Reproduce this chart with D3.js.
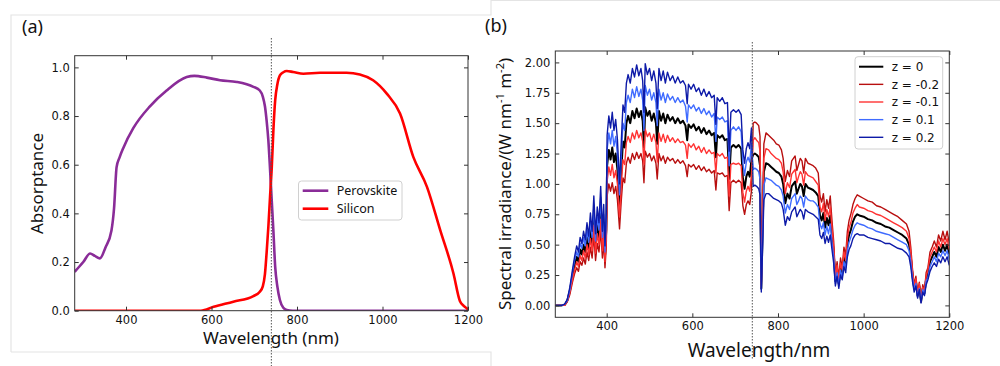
<!DOCTYPE html>
<html>
<head>
<meta charset="utf-8">
<script src="https://cdn.jsdelivr.net/npm/d3@7"></script>
<style>
body { margin: 0; background: #fff; }
svg { display: block; }
.tick text { font-family: "DejaVu Sans", sans-serif; fill: #111; }
</style>
</head>
<body>
<svg id="chart" width="1000" height="366"></svg>
<script>
// panel (a) absorptance
var absWl = [280, 300, 316, 327, 339, 352, 366, 372, 378, 385, 394, 417, 456, 495, 542, 560, 589, 620, 659, 698, 713, 720, 725, 729, 733, 737, 741, 745, 749, 754, 760, 768, 776, 790, 1200];
var perovskite = [0.16, 0.20, 0.235, 0.225, 0.215, 0.26, 0.33, 0.42, 0.59, 0.63, 0.67, 0.75, 0.84, 0.905, 0.96, 0.965, 0.958, 0.947, 0.94, 0.92, 0.905, 0.88, 0.84, 0.78, 0.70, 0.58, 0.45, 0.32, 0.18, 0.10, 0.044, 0.012, 0.003, 0, 0];
var siWl = [280, 575, 605, 651, 698, 713, 720, 725, 729, 733, 737, 741, 745, 749, 754, 760, 768, 776, 791, 815, 854, 916, 947, 978, 1010, 1041, 1072, 1104, 1135, 1166, 1181, 1190, 1197, 1200];
var silicon = [0, 0, 0.016, 0.037, 0.06, 0.078, 0.10, 0.15, 0.24, 0.345, 0.47, 0.59, 0.75, 0.865, 0.93, 0.967, 0.98, 0.985, 0.981, 0.974, 0.978, 0.978, 0.971, 0.947, 0.892, 0.81, 0.632, 0.509, 0.331, 0.153, 0.04, 0.02, 0.01, 0.005];
var absTicksX = [400, 600, 800, 1000, 1200];
var absTicksY = [0, 0.2, 0.4, 0.6, 0.8, 1.0];

// panel (b) spectral irradiance
var specWl = [280, 295, 302, 308, 314, 320, 325, 330, 334, 338, 342, 346, 350, 354, 358, 362, 366, 370, 374, 378, 382, 386, 390, 393, 396, 399,
  401, 405, 409, 413, 417, 421, 425, 430, 434, 438, 442, 446, 450, 455, 460, 465, 470, 475, 480, 484, 487, 490, 495, 500, 505, 510, 515, 518,
  522, 527, 532, 537, 542, 548, 554, 560, 566, 572, 578, 584, 588, 591, 597, 603, 609, 615, 621, 627, 633, 639, 645, 651, 655, 658, 664, 670,
  676, 682, 686, 690, 696, 702, 708, 714, 718, 722, 726, 730, 734, 738,
  742, 746, 750, 755, 758, 761, 764, 767, 772, 778, 784, 790, 796, 802, 808, 812, 817, 822, 827, 832, 836, 840, 844, 848, 852, 856, 860, 864,
  870, 876, 882, 888, 894, 898, 902, 906, 910, 914, 918, 922, 926, 930, 934, 938, 942, 946, 950, 954, 958, 962, 966, 970, 975, 980, 985, 990,
  1000, 1010, 1020, 1030, 1040, 1050, 1060, 1070, 1080, 1090, 1100, 1106, 1110, 1114, 1118, 1122, 1126, 1130, 1134, 1138, 1142, 1146, 1150,
  1155, 1160, 1165, 1170, 1175, 1180, 1185, 1190, 1195, 1200];
var z0 = [0, 0, 0.005, 0.04, 0.12, 0.24, 0.33, 0.40, 0.36, 0.46, 0.42, 0.50, 0.44, 0.56, 0.47, 0.62, 0.50, 0.74, 0.48, 0.66, 0.56, 0.80, 0.50, 0.68, 0.40, 0.62,
  1.15, 1.28, 1.20, 1.30, 1.18, 1.25, 1.12, 0.82, 1.10, 1.35, 1.30, 1.50, 1.56, 1.50, 1.60, 1.54, 1.62, 1.55, 1.60, 1.52, 1.30, 1.63, 1.56, 1.60, 1.52, 1.58, 1.50, 1.33,
  1.60, 1.52, 1.58, 1.50, 1.57, 1.52, 1.55, 1.50, 1.54, 1.50, 1.52, 1.48, 1.36, 1.49, 1.46, 1.49, 1.44, 1.47, 1.42, 1.46, 1.41, 1.44, 1.40, 1.42, 1.22, 1.40, 1.38, 1.40,
  1.36, 1.37, 1.04, 1.30, 1.32, 1.30, 1.32, 1.29, 1.05, 0.96, 1.06, 1.10, 1.06, 1.20,
  1.24, 1.25, 1.24, 1.22, 1.15, 0.14, 0.60, 1.10, 1.17, 1.16, 1.14, 1.12, 1.10, 1.09, 1.06, 1.00, 0.84, 0.92, 0.88, 0.98, 1.00, 1.02, 0.92, 0.96, 1.00, 0.98, 0.90, 1.00,
  0.97, 0.96, 0.95, 0.93, 0.90, 0.74, 0.70, 0.76, 0.64, 0.72, 0.66, 0.74, 0.58, 0.44, 0.20, 0.30, 0.18, 0.32, 0.26, 0.40, 0.34, 0.50, 0.58, 0.62, 0.69, 0.73, 0.75, 0.74,
  0.73, 0.71, 0.70, 0.68, 0.67, 0.65, 0.64, 0.62, 0.60, 0.58, 0.55, 0.50, 0.40, 0.25, 0.14, 0.20, 0.08, 0.16, 0.03, 0.14, 0.10, 0.22, 0.26,
  0.36, 0.40, 0.44, 0.40, 0.48, 0.44, 0.50, 0.45, 0.50, 0.42];
var zm02 = [0, 0, 0, 0.03, 0.09, 0.19, 0.26, 0.31, 0.28, 0.36, 0.33, 0.39, 0.34, 0.44, 0.37, 0.48, 0.39, 0.58, 0.37, 0.51, 0.44, 0.62, 0.39, 0.53, 0.31, 0.48,
  0.90, 1.00, 0.94, 1.01, 0.92, 0.98, 0.87, 0.63, 0.86, 1.05, 1.01, 1.17, 1.22, 1.17, 1.25, 1.20, 1.26, 1.21, 1.25, 1.19, 1.01, 1.27, 1.22, 1.25, 1.19, 1.23, 1.17, 1.04,
  1.25, 1.19, 1.23, 1.17, 1.22, 1.19, 1.21, 1.17, 1.20, 1.17, 1.19, 1.15, 1.06, 1.16, 1.14, 1.16, 1.12, 1.15, 1.11, 1.14, 1.10, 1.12, 1.09, 1.11, 0.95, 1.09, 1.08, 1.09,
  1.06, 1.07, 0.78, 1.01, 1.03, 1.01, 1.03, 1.01, 0.82, 0.75, 0.83, 0.86, 0.83, 0.94,
  1.50, 1.51, 1.50, 1.48, 1.39, 0.17, 0.73, 1.33, 1.42, 1.40, 1.38, 1.36, 1.33, 1.32, 1.28, 1.21, 1.02, 1.11, 1.06, 1.19, 1.21, 1.23, 1.11, 1.16, 1.21, 1.19, 1.09, 1.21,
  1.17, 1.16, 1.15, 1.13, 1.09, 0.90, 0.85, 0.92, 0.77, 0.87, 0.80, 0.90, 0.70, 0.53, 0.24, 0.36, 0.22, 0.39, 0.31, 0.48, 0.41, 0.61, 0.70, 0.75, 0.83, 0.88, 0.91, 0.90,
  0.88, 0.86, 0.85, 0.82, 0.81, 0.79, 0.77, 0.75, 0.73, 0.70, 0.67, 0.61, 0.48, 0.30, 0.17, 0.24, 0.10, 0.19, 0.04, 0.17, 0.12, 0.27, 0.31,
  0.44, 0.48, 0.53, 0.48, 0.58, 0.53, 0.61, 0.54, 0.61, 0.51];
var zm01 = [0, 0, 0, 0.04, 0.11, 0.21, 0.29, 0.36, 0.32, 0.41, 0.37, 0.45, 0.39, 0.50, 0.42, 0.55, 0.45, 0.66, 0.43, 0.59, 0.50, 0.71, 0.45, 0.61, 0.36, 0.55,
  1.02, 1.14, 1.07, 1.16, 1.05, 1.11, 1.00, 0.73, 0.98, 1.20, 1.16, 1.34, 1.39, 1.34, 1.42, 1.37, 1.44, 1.38, 1.42, 1.35, 1.16, 1.45, 1.39, 1.42, 1.35, 1.41, 1.34, 1.18,
  1.42, 1.35, 1.41, 1.34, 1.40, 1.35, 1.38, 1.34, 1.37, 1.34, 1.35, 1.32, 1.21, 1.33, 1.30, 1.33, 1.28, 1.31, 1.26, 1.30, 1.25, 1.28, 1.25, 1.26, 1.09, 1.25, 1.23, 1.25,
  1.21, 1.22, 0.90, 1.16, 1.17, 1.16, 1.17, 1.15, 0.93, 0.85, 0.94, 0.98, 0.94, 1.07,
  1.36, 1.38, 1.36, 1.34, 1.27, 0.15, 0.66, 1.21, 1.29, 1.28, 1.25, 1.23, 1.21, 1.20, 1.17, 1.10, 0.92, 1.01, 0.97, 1.08, 1.10, 1.12, 1.01, 1.06, 1.10, 1.08, 0.99, 1.10,
  1.07, 1.06, 1.05, 1.02, 0.99, 0.81, 0.77, 0.84, 0.70, 0.79, 0.73, 0.81, 0.64, 0.48, 0.22, 0.33, 0.20, 0.35, 0.29, 0.44, 0.37, 0.55, 0.64, 0.68, 0.76, 0.80, 0.83, 0.81,
  0.80, 0.78, 0.77, 0.75, 0.74, 0.72, 0.70, 0.68, 0.66, 0.64, 0.61, 0.55, 0.44, 0.28, 0.15, 0.22, 0.09, 0.18, 0.03, 0.15, 0.11, 0.24, 0.29,
  0.40, 0.44, 0.48, 0.44, 0.53, 0.48, 0.55, 0.50, 0.55, 0.46];
var zp01 = [0, 0, 0.01, 0.04, 0.13, 0.27, 0.37, 0.44, 0.40, 0.51, 0.47, 0.56, 0.49, 0.62, 0.52, 0.69, 0.56, 0.82, 0.53, 0.73, 0.62, 0.89, 0.56, 0.75, 0.44, 0.69,
  1.28, 1.42, 1.33, 1.44, 1.31, 1.39, 1.24, 0.91, 1.22, 1.50, 1.44, 1.67, 1.73, 1.67, 1.78, 1.71, 1.80, 1.72, 1.78, 1.69, 1.44, 1.81, 1.73, 1.78, 1.69, 1.75, 1.67, 1.48,
  1.78, 1.69, 1.75, 1.67, 1.74, 1.69, 1.72, 1.67, 1.71, 1.67, 1.69, 1.64, 1.51, 1.65, 1.62, 1.65, 1.60, 1.63, 1.58, 1.62, 1.57, 1.60, 1.55, 1.58, 1.35, 1.55, 1.53, 1.55,
  1.51, 1.52, 1.15, 1.44, 1.47, 1.44, 1.47, 1.43, 1.17, 1.07, 1.18, 1.22, 1.18, 1.33,
  1.12, 1.13, 1.12, 1.10, 1.04, 0.13, 0.54, 0.99, 1.05, 1.04, 1.03, 1.01, 0.99, 0.98, 0.95, 0.90, 0.76, 0.83, 0.79, 0.88, 0.90, 0.92, 0.83, 0.86, 0.90, 0.88, 0.81, 0.90,
  0.87, 0.86, 0.86, 0.84, 0.81, 0.67, 0.63, 0.68, 0.58, 0.65, 0.59, 0.67, 0.52, 0.40, 0.18, 0.27, 0.16, 0.29, 0.23, 0.36, 0.31, 0.45, 0.52, 0.56, 0.62, 0.66, 0.68, 0.67,
  0.66, 0.64, 0.63, 0.61, 0.60, 0.59, 0.58, 0.56, 0.54, 0.52, 0.50, 0.45, 0.36, 0.23, 0.13, 0.18, 0.07, 0.14, 0.03, 0.13, 0.09, 0.20, 0.23,
  0.32, 0.36, 0.40, 0.36, 0.43, 0.40, 0.45, 0.41, 0.45, 0.38];
var zp02 = [0, 0, 0.01, 0.05, 0.15, 0.29, 0.40, 0.49, 0.44, 0.56, 0.51, 0.61, 0.54, 0.68, 0.57, 0.76, 0.61, 0.90, 0.59, 0.81, 0.68, 0.98, 0.61, 0.83, 0.49, 0.76,
  1.40, 1.56, 1.46, 1.59, 1.44, 1.53, 1.37, 1.00, 1.34, 1.65, 1.59, 1.83, 1.90, 1.83, 1.95, 1.88, 1.98, 1.89, 1.95, 1.85, 1.59, 1.99, 1.90, 1.95, 1.85, 1.93, 1.83, 1.62,
  1.95, 1.85, 1.93, 1.83, 1.92, 1.85, 1.89, 1.83, 1.88, 1.83, 1.85, 1.81, 1.66, 1.82, 1.78, 1.82, 1.76, 1.79, 1.73, 1.78, 1.72, 1.76, 1.71, 1.73, 1.49, 1.71, 1.68, 1.71,
  1.66, 1.67, 1.27, 1.59, 1.61, 1.59, 1.61, 1.57, 1.28, 1.17, 1.29, 1.34, 1.29, 1.46,
  0.98, 0.99, 0.98, 0.96, 0.91, 0.11, 0.47, 0.87, 0.92, 0.92, 0.90, 0.88, 0.87, 0.86, 0.84, 0.79, 0.66, 0.73, 0.70, 0.77, 0.79, 0.81, 0.73, 0.76, 0.79, 0.77, 0.71, 0.79,
  0.77, 0.76, 0.75, 0.73, 0.71, 0.58, 0.55, 0.60, 0.51, 0.57, 0.52, 0.58, 0.46, 0.35, 0.16, 0.24, 0.14, 0.25, 0.21, 0.32, 0.27, 0.40, 0.46, 0.49, 0.55, 0.58, 0.59, 0.58,
  0.58, 0.56, 0.55, 0.54, 0.53, 0.51, 0.51, 0.49, 0.47, 0.46, 0.43, 0.40, 0.32, 0.20, 0.11, 0.16, 0.06, 0.13, 0.02, 0.11, 0.08, 0.17, 0.21,
  0.28, 0.32, 0.35, 0.32, 0.38, 0.35, 0.40, 0.36, 0.40, 0.33];
var specNames = ["z = 0", "z = -0.2", "z = -0.1", "z = 0.1", "z = 0.2"];
var specColors = ["#000000", "#b80f0f", "#ff3333", "#3f6bff", "#0d1aa8"];
var specWidths = [2, 1.4, 1.4, 1.4, 1.4];
var specTicksX = [400, 600, 800, 1000, 1200];
var specTicksY = [0, 0.25, 0.5, 0.75, 1.0, 1.25, 1.5, 1.75, 2.0];
var splitWl = 740;

var svg = d3.select("#chart");
svg.append("rect").attr("width", 1000).attr("height", 366).attr("fill", "#fff");

// screenshot frame lines
svg.append("path").attr("d", "M11,352V15H491V0M11,352H491V366M491,0.5H1000").attr("fill", "none").attr("stroke", "#e4e4e4").attr("stroke-width", 1.2);

function frameAxes(g, x, y, ticksX, ticksY, fmtY, fs) {
    var w = x.range()[1] - x.range()[0];
    var h = y.range()[0] - y.range()[1];
    g.append("g").attr("transform", "translate(0," + y.range()[0] + ")")
        .call(d3.axisBottom(x).tickValues(ticksX).tickSizeInner(-4).tickSizeOuter(0).tickPadding(5).tickFormat(d3.format("d")))
        .call(function(a) { a.select(".domain").remove(); a.selectAll("text").attr("font-size", fs); });
    g.append("g").attr("transform", "translate(0," + y.range()[1] + ")")
        .call(d3.axisTop(x).tickValues(ticksX).tickSizeInner(-4).tickSizeOuter(0).tickFormat(""))
        .call(function(a) { a.select(".domain").remove(); });
    g.append("g").attr("transform", "translate(" + x.range()[0] + ",0)")
        .call(d3.axisLeft(y).tickValues(ticksY).tickSizeInner(-4).tickSizeOuter(0).tickPadding(5).tickFormat(d3.format(fmtY)))
        .call(function(a) { a.select(".domain").remove(); a.selectAll("text").attr("font-size", fs); });
    g.append("g").attr("transform", "translate(" + x.range()[1] + ",0)")
        .call(d3.axisRight(y).tickValues(ticksY).tickSizeInner(-4).tickSizeOuter(0).tickFormat(""))
        .call(function(a) { a.select(".domain").remove(); });
    g.selectAll(".tick line").attr("stroke", "#333");
    g.append("rect").attr("x", x.range()[0]).attr("y", y.range()[1]).attr("width", w).attr("height", h)
        .attr("fill", "none").attr("stroke", "#333").attr("stroke-width", 1);
}

// ---------- panel (a)
var xa = d3.scaleLinear().domain([280, 1200]).range([74.7, 468]);
var ya = d3.scaleLinear().domain([0, 1.048]).range([310.7, 55.7]);
var ga = svg.append("g");
var lineA = d3.line().x(function(d) { return xa(d[0]); }).y(function(d) { return ya(d[1]); }).curve(d3.curveMonotoneX);
var clipA = ga.append("clipPath").attr("id", "clipA").append("rect")
    .attr("x", 74.7).attr("y", 55.7).attr("width", 468 - 74.7).attr("height", 310.7 - 55.7);
ga.append("path").attr("d", lineA(d3.zip(absWl, perovskite))).attr("fill", "none").attr("stroke", "#8a2c98").attr("stroke-width", 2.6).attr("clip-path", "url(#clipA)");
ga.append("path").attr("d", lineA(d3.zip(siWl, silicon))).attr("fill", "none").attr("stroke", "#ff0000").attr("stroke-width", 2.6).attr("clip-path", "url(#clipA)");
frameAxes(ga, xa, ya, absTicksX, absTicksY, ".1f", 11.5);
ga.append("line").attr("x1", xa(splitWl)).attr("x2", xa(splitWl)).attr("y1", 38).attr("y2", 366)
    .attr("stroke", "#555").attr("stroke-width", 1).attr("stroke-dasharray", "1.5,1.5");

var legA = ga.append("g");
legA.append("rect").attr("x", 298.5).attr("y", 181).attr("width", 103.5).attr("height", 39).attr("rx", 3)
    .attr("fill", "#fff").attr("stroke", "#d0d0d0");
[["Perovskite", "#8a2c98", 190.7], ["Silicon", "#ff0000", 208.7]].forEach(function(e) {
    legA.append("line").attr("x1", 302.7).attr("x2", 328.3).attr("y1", e[2]).attr("y2", e[2]).attr("stroke", e[1]).attr("stroke-width", 2.6);
    legA.append("text").attr("x", 336.7).attr("y", e[2]).attr("dy", "0.35em").attr("font-family", "Noto Sans").attr("font-size", 12.5).attr("fill", "#111").text(e[0]);
});
svg.append("text").attr("x", 22).attr("y", 33).attr("font-family", "Noto Sans").attr("font-size", 18).attr("fill", "#111").text("(a)");
svg.append("text").attr("transform", "translate(43,183.5) rotate(-90)").attr("text-anchor", "middle")
    .attr("font-family", "Noto Sans").attr("font-size", 17).attr("fill", "#111").text("Absorptance");
svg.append("text").attr("x", 271).attr("y", 344).attr("text-anchor", "middle")
    .attr("font-family", "Noto Sans").attr("font-size", 17).attr("fill", "#111").text("Wavelength (nm)");

// ---------- panel (b)
var xb = d3.scaleLinear().domain([280, 1200]).range([555.3, 949.3]);
var yb = d3.scaleLinear().domain([-0.098, 2.094]).range([317.3, 51]);
var gb = svg.append("g");
gb.append("clipPath").attr("id", "clipB").append("rect")
    .attr("x", 555.3).attr("y", 51).attr("width", 949.3 - 555.3).attr("height", 317.3 - 51);
var lineB = d3.line().x(function(d) { return xb(d[0]); }).y(function(d) { return yb(d[1]); });
var specSeries = [z0, zm02, zm01, zp01, zp02];
specSeries.forEach(function(s, i) {
    gb.append("path").attr("d", lineB(d3.zip(specWl, s))).attr("fill", "none").attr("stroke", specColors[i])
        .attr("stroke-width", specWidths[i]).attr("stroke-linejoin", "round").attr("clip-path", "url(#clipB)");
});
frameAxes(gb, xb, yb, specTicksX, specTicksY, ".2f", 11.5);
gb.append("line").attr("x1", xb(splitWl)).attr("x2", xb(splitWl)).attr("y1", 42).attr("y2", 360)
    .attr("stroke", "#555").attr("stroke-width", 1).attr("stroke-dasharray", "1.5,1.5");

var legB = gb.append("g");
legB.append("rect").attr("x", 855).attr("y", 56.7).attr("width", 87.7).attr("height", 92.3).attr("rx", 3)
    .attr("fill", "#fff").attr("stroke", "#d0d0d0");
specNames.forEach(function(n, i) {
    var yy = 66.7 + i * 17.65;
    legB.append("line").attr("x1", 859).attr("x2", 883.3).attr("y1", yy).attr("y2", yy).attr("stroke", specColors[i]).attr("stroke-width", specWidths[i]);
    legB.append("text").attr("x", 891.7).attr("y", yy).attr("dy", "0.35em").attr("font-family", "DejaVu Sans").attr("font-size", 12).attr("fill", "#111").text(n);
});
svg.append("text").attr("x", 485).attr("y", 32).attr("font-family", "Noto Sans").attr("font-size", 18).attr("fill", "#111").text("(b)");
var yl = svg.append("text").attr("transform", "translate(511,184) rotate(-90)").attr("text-anchor", "middle")
    .attr("font-family", "Noto Sans").attr("font-size", 17).attr("fill", "#111");
yl.append("tspan").text("Spectral irradiance/(W nm");
yl.append("tspan").attr("font-size", 11).attr("dy", -7).text("-1");
yl.append("tspan").attr("dy", 7).text(" m");
yl.append("tspan").attr("font-size", 11).attr("dy", -7).text("-2");
yl.append("tspan").attr("dy", 7).text(")");
svg.append("text").attr("x", 759).attr("y", 357).attr("text-anchor", "middle")
    .attr("font-family", "Noto Sans").attr("font-size", 19).attr("fill", "#111").text("Wavelength/nm");
</script>
</body>
</html>
